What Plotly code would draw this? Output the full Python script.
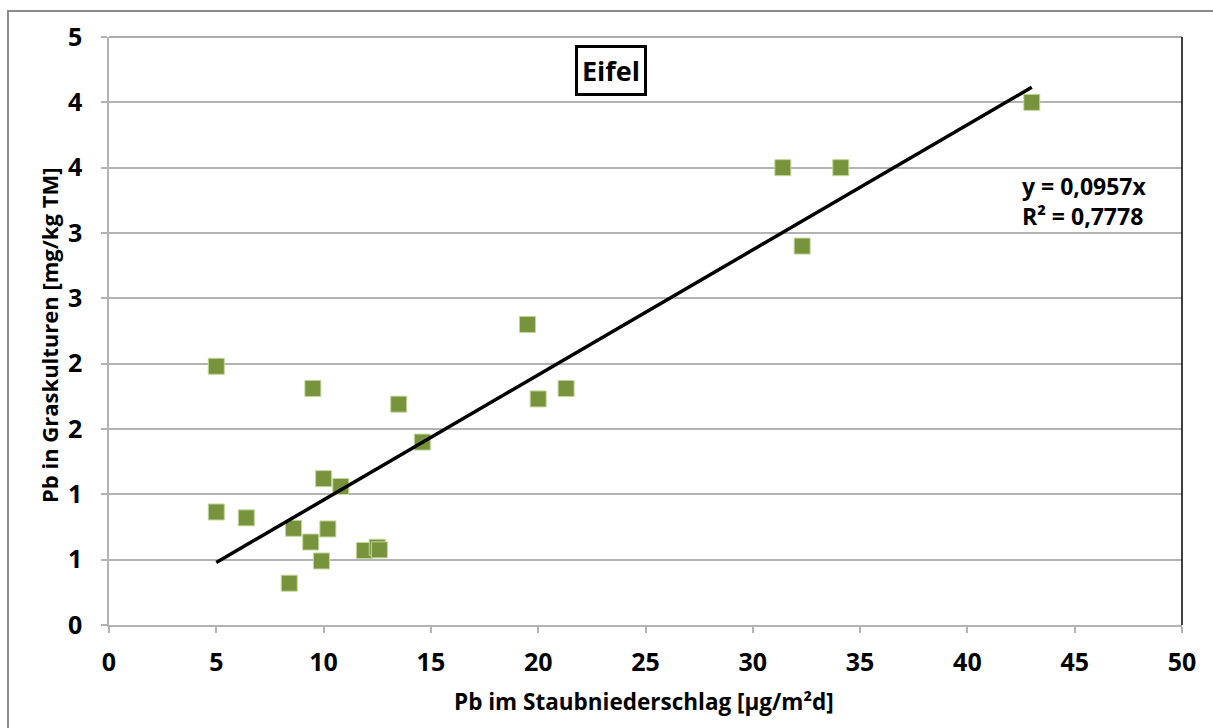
import plotly.graph_objects as go

# Data
x_dust = [5.0, 5.0, 6.4, 8.4, 8.6, 9.4, 9.5, 9.9, 10.0, 10.2, 10.8, 11.9, 12.5, 12.6, 13.5, 14.6, 19.5, 20.0, 21.3, 31.4, 32.3, 34.1, 43.0]
y_grass = [1.98, 0.865, 0.82, 0.32, 0.74, 0.635, 1.81, 0.49, 1.12, 0.735, 1.06, 0.57, 0.595, 0.575, 1.69, 1.40, 2.30, 1.73, 1.81, 3.50, 2.90, 3.50, 4.00]
slope = 0.0957
x_ticks = [0, 5, 10, 15, 20, 25, 30, 35, 40, 45, 50]
y_ticks = [0, 0.5, 1.0, 1.5, 2.0, 2.5, 3.0, 3.5, 4.0, 4.5]
y_ticklabels = ["0", "1", "1", "2", "2", "3", "3", "4", "4", "5"]

W, H = 1213, 728
L, R, T, B = 109, 1182, 37, 625
FONT = "Open Sans"

fig = go.Figure()
fig.add_trace(go.Scatter(
    x=x_dust, y=y_grass, mode="markers",
    marker=dict(symbol="square", size=16, color="#77933C",
                line=dict(color="#c3d69b", width=1)),
    showlegend=False, hoverinfo="x+y"))

xl = [min(x_dust), max(x_dust)]
fig.add_trace(go.Scatter(
    x=xl, y=[slope * v for v in xl], mode="lines",
    line=dict(color="black", width=3.5), showlegend=False))

def px_to_paper_x(p):
    return (p - L) / (R - L)

def px_to_paper_y(p):
    return (B - p) / (B - T)

shapes = [
    # outer chart border
    dict(type="rect", xref="paper", yref="paper",
         x0=px_to_paper_x(8), x1=px_to_paper_x(1260),
         y0=px_to_paper_y(760), y1=px_to_paper_y(11),
         line=dict(color="#8c8c8c", width=2), layer="below"),
    # plot area top and right borders
    dict(type="line", xref="paper", yref="paper", x0=0, x1=1, y0=1, y1=1,
         line=dict(color="#595959", width=1)),
    dict(type="line", xref="paper", yref="paper", x0=1, x1=1, y0=0, y1=1,
         line=dict(color="black", width=1.5)),
]

tickfont = dict(size=25, family=FONT, color="black")

fig.update_layout(
    width=W, height=H,
    margin=dict(l=L, r=W - R, t=T, b=H - B),
    paper_bgcolor="white", plot_bgcolor="white",
    font=dict(family=FONT, color="black"),
    shapes=shapes,
    xaxis=dict(range=[0, 50], tickvals=x_ticks, ticktext=["<b>%d</b>" % v for v in x_ticks],
               showgrid=False, zeroline=False,
               showline=True, linecolor="#b3b3b3", linewidth=1.5,
               ticks="outside", ticklen=6, tickcolor="#b3b3b3", tickwidth=1.5,
               tickfont=tickfont, ticklabelstandoff=8),
    yaxis=dict(range=[0, 4.5], tickvals=y_ticks, ticktext=["<b>%s</b>" % t for t in y_ticklabels],
               showgrid=True, gridcolor="#b3b3b3", gridwidth=1.5, zeroline=False,
               showline=True, linecolor="#b3b3b3", linewidth=1.5,
               ticks="outside", ticklen=6, tickcolor="#b3b3b3", tickwidth=1.5,
               tickfont=tickfont, ticklabelstandoff=14),
    annotations=[
        dict(text="<b>Pb im Staubniederschlag [µg/m²d]</b>", xref="paper", yref="paper",
             x=px_to_paper_x(644), y=px_to_paper_y(701), xanchor="center", yanchor="middle",
             showarrow=False, font=dict(size=22.5, family=FONT)),
        dict(text="<b>Pb in Graskulturen [mg/kg TM]</b>", xref="paper", yref="paper",
             x=px_to_paper_x(49), y=px_to_paper_y(336), xanchor="center", yanchor="middle",
             textangle=-90, showarrow=False, font=dict(size=22, family=FONT)),
        dict(text="<b>Eifel</b>", xref="paper", yref="paper",
             x=px_to_paper_x(611), y=px_to_paper_y(71), xanchor="center", yanchor="middle",
             showarrow=False, font=dict(size=27, family=FONT),
             bordercolor="black", borderwidth=3, borderpad=4, bgcolor="white"),
        dict(text="<b>y = 0,0957x<br>R² = 0,7778</b>", xref="paper", yref="paper",
             x=px_to_paper_x(1020), y=px_to_paper_y(201), xanchor="left", yanchor="middle",
             align="left", showarrow=False, font=dict(size=23, family=FONT)),
    ],
)

fig.write_html("out.html")
